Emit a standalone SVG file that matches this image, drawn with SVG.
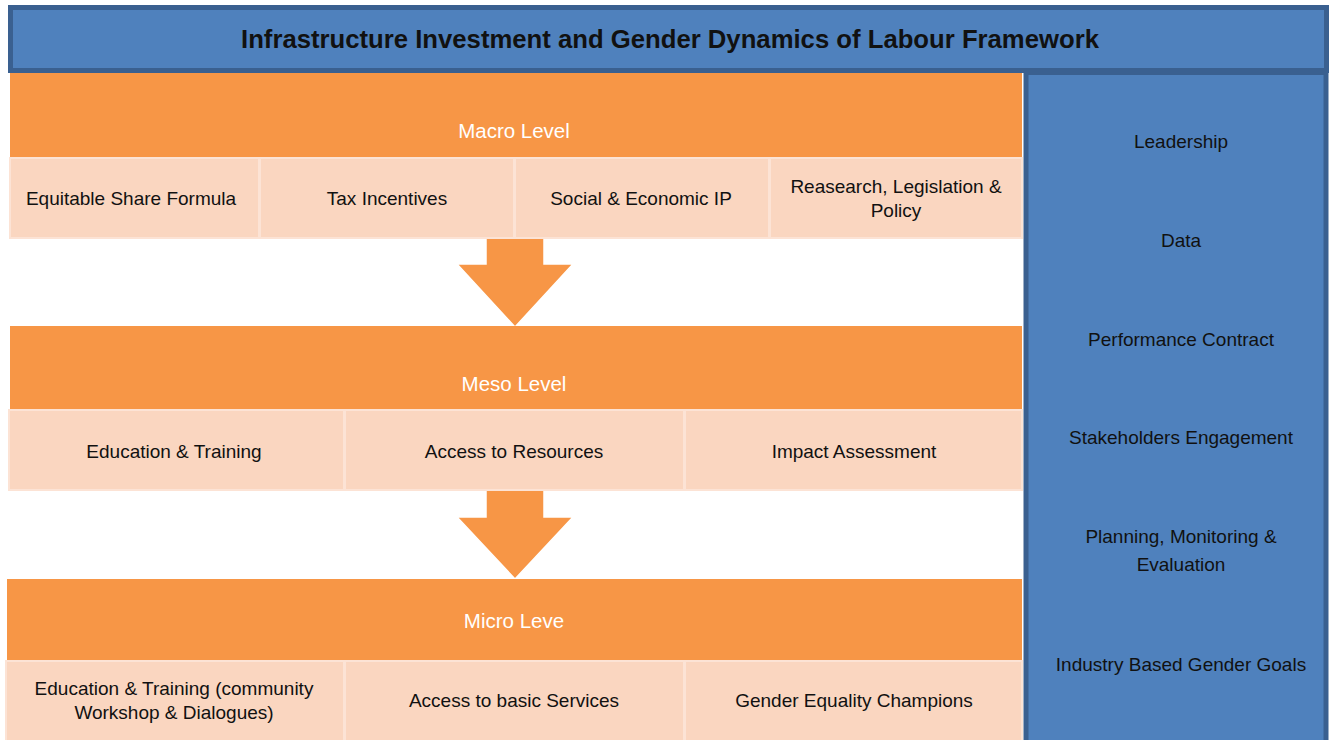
<svg xmlns="http://www.w3.org/2000/svg" width="1329" height="740" viewBox="0 0 1329 740">
<style>
.hdr{fill:#F79646}
.cell{fill:#FAD6C0;stroke:#FCE3D5;stroke-width:2}
.blue{fill:#4F81BD;stroke:#3A6090;stroke-width:5}
.arrow{fill:#F79646;stroke:#FFFFFF;stroke-width:1.5}
text{font-family:"Liberation Sans",Arial,sans-serif;font-size:19px;fill:#111111;text-anchor:middle}
.w{fill:#FFFFFF;font-size:20.5px}
.title{font-weight:bold;font-size:25.7px}
</style>
<rect width="1329" height="740" fill="#FFFFFF"/>
<g id="title">
<rect class="blue" x="10.5" y="7.5" width="1316" height="63"/>
<text class="title" x="670" y="48">Infrastructure Investment and Gender Dynamics of Labour Framework</text>
</g>
<g id="side-panel">
<rect class="blue" x="1026" y="72.5" width="300" height="670"/>
<text x="1181" y="148">Leadership</text>
<text x="1181" y="247">Data</text>
<text x="1181" y="346">Performance Contract</text>
<text x="1181" y="444">Stakeholders Engagement</text>
<text x="1181" y="543">Planning, Monitoring &amp;</text>
<text x="1181" y="571">Evaluation</text>
<text x="1181" y="671">Industry Based Gender Goals</text>
</g>
<g id="connectors">
<polygon class="arrow" points="486,234 544,234 544,264 573,264 515,327 457,264 486,264"/>
<polygon class="arrow" points="486,487 544,487 544,517 573,517 515,579 457,517 486,517"/>
</g>
<g id="macro">
<rect class="hdr" x="10" y="73" width="1012" height="86"/>
<text class="w" x="514" y="138">Macro Level</text>
<rect class="cell" x="10" y="158" width="249" height="80"/>
<rect class="cell" x="260" y="158" width="254" height="80"/>
<rect class="cell" x="515" y="158" width="254" height="80"/>
<rect class="cell" x="770" y="158" width="252" height="80"/>
<text x="131" y="205">Equitable Share Formula</text>
<text x="387" y="205">Tax Incentives</text>
<text x="641" y="205">Social &amp; Economic IP</text>
<text x="896" y="193">Reasearch, Legislation &amp;</text>
<text x="896" y="217">Policy</text>
</g>
<g id="meso">
<rect class="hdr" x="10" y="326" width="1012" height="85"/>
<text class="w" x="514" y="391">Meso Level</text>
<rect class="cell" x="9" y="410" width="335" height="80"/>
<rect class="cell" x="345" y="410" width="339" height="80"/>
<rect class="cell" x="685" y="410" width="337" height="80"/>
<text x="174" y="458">Education &amp; Training</text>
<text x="514" y="458">Access to Resources</text>
<text x="854" y="458">Impact Assessment</text>
</g>
<g id="micro">
<rect class="hdr" x="7" y="579" width="1015" height="84"/>
<text class="w" x="514" y="628">Micro Leve</text>
<rect class="cell" x="6" y="661" width="338" height="81"/>
<rect class="cell" x="345" y="661" width="339" height="81"/>
<rect class="cell" x="685" y="661" width="337" height="81"/>
<text x="174" y="695">Education &amp; Training (community</text>
<text x="174" y="719">Workshop &amp; Dialogues)</text>
<text x="514" y="707">Access to basic Services</text>
<text x="854" y="707">Gender Equality Champions</text>
</g>
</svg>
